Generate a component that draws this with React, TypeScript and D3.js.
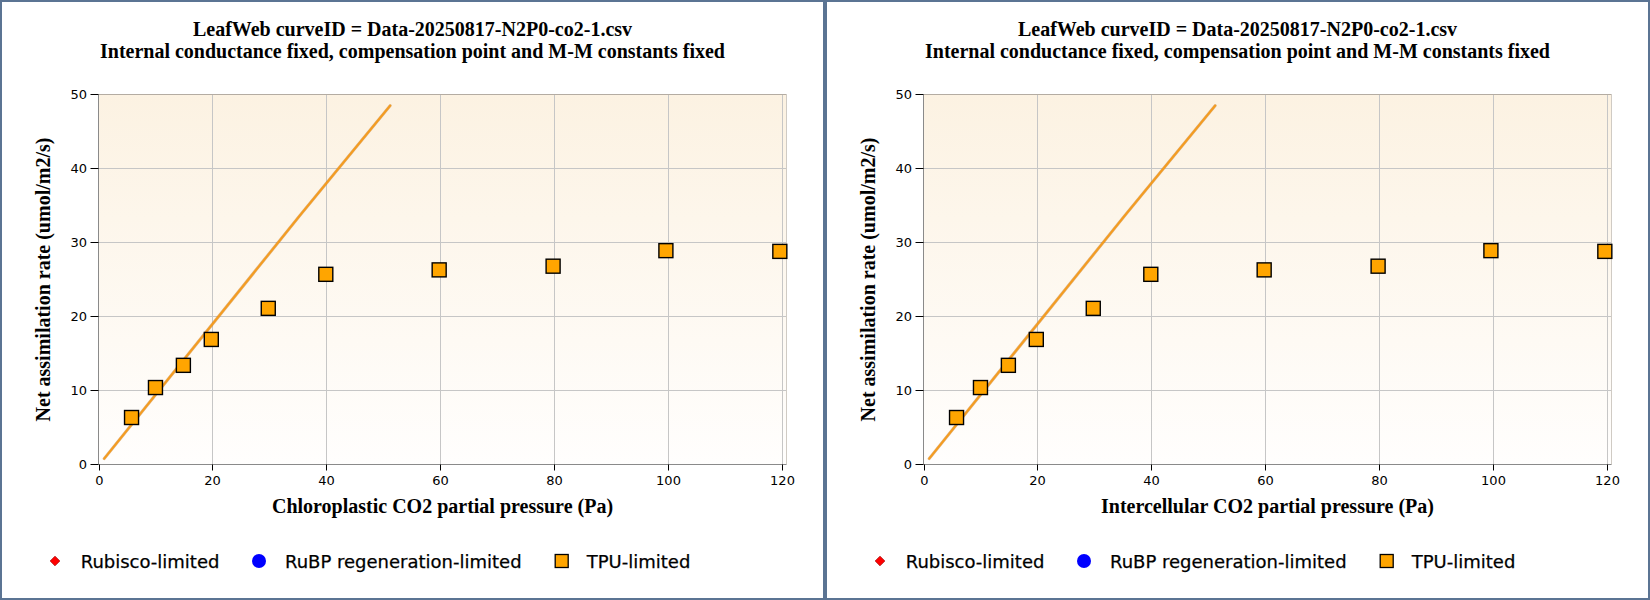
import React, { useEffect, useRef } from 'react';
import * as d3 from 'd3';

// ---- data ----
const ccValues = [5.8, 10.0, 14.9, 19.8, 29.8, 39.9, 59.8, 79.8, 99.6, 119.6];
const anValues = [6.35, 10.4, 13.4, 16.9, 21.1, 25.7, 26.3, 26.8, 28.9, 28.8];
const fitX = [1.0, 35.4, 51.2];
const fitY = [0.8, 33.7, 48.5];
const xTicks = [0, 20, 40, 60, 80, 100, 120];
const yTicks = [0, 10, 20, 30, 40, 50];
const titleLine1 = 'LeafWeb curveID = Data-20250817-N2P0-co2-1.csv';
const titleLine2 = 'Internal conductance fixed, compensation point and M-M constants fixed';
const xTitles = ['Chloroplastic CO2 partial pressure (Pa)', 'Intercellular CO2 partial pressure (Pa)'];
const yTitle = 'Net assimilation rate (umol/m2/s)';
const legendLabels = ['Rubisco-limited', 'RuBP regeneration-limited', 'TPU-limited'];

const W = 1650;
const H = 600;
const PW = 825;
const SERIF = '"Liberation Serif", "Times New Roman", serif';
const SANS = '"DejaVu Sans", Tahoma, Verdana, sans-serif';
const BORDER = '#5b7493';

export default function App() {
  const ref = useRef<SVGSVGElement | null>(null);

  useEffect(() => {
    const svg = d3.select(ref.current);
    svg.selectAll('*').remove();

    const defs = svg.append('defs');
    const grad = defs.append('linearGradient').attr('id', 'bgGrad').attr('x1', 0).attr('y1', 0).attr('x2', 0).attr('y2', 1);
    grad.append('stop').attr('offset', '0%').attr('stop-color', '#fcf2e2');
    grad.append('stop').attr('offset', '100%').attr('stop-color', '#fffefd');

    const x = d3.scaleLinear().domain([0, 120.77]).range([98.5, 786.5]);
    const y = d3.scaleLinear().domain([0, 50]).range([464.5, 94.5]);

    [0, 1].forEach((pi) => {
      const g = svg.append('g').attr('transform', `translate(${pi * PW},0)`);

      g.append('rect').attr('x', 0).attr('y', 0).attr('width', PW).attr('height', H).attr('fill', '#fff');

      // titles
      g.append('text').attr('x', PW / 2).attr('y', 35.7).attr('text-anchor', 'middle')
        .attr('font-family', SERIF).attr('font-weight', 'bold').attr('font-size', 20).text(titleLine1);
      g.append('text').attr('x', PW / 2).attr('y', 58.3).attr('text-anchor', 'middle')
        .attr('font-family', SERIF).attr('font-weight', 'bold').attr('font-size', 20).text(titleLine2);

      const [x0, x1] = x.range();
      const [y0, y1] = y.range();

      // plot background
      g.append('rect').attr('x', x0).attr('y', y1).attr('width', x1 - x0).attr('height', y0 - y1).attr('fill', 'url(#bgGrad)');

      // grid
      g.selectAll('.vg').data(xTicks.filter((t) => t > 0)).enter().append('line')
        .attr('x1', (d) => Math.round(x(d)) + 0.5).attr('x2', (d) => Math.round(x(d)) + 0.5)
        .attr('y1', y1).attr('y2', y0).attr('stroke', '#c6c6c6').attr('stroke-width', 1);
      g.selectAll('.hg').data(yTicks.filter((t) => t > 0)).enter().append('line')
        .attr('x1', x0).attr('x2', x1)
        .attr('y1', (d) => y(d)).attr('y2', (d) => y(d)).attr('stroke', '#c6c6c6').attr('stroke-width', 1);

      // plot frame
      g.append('line').attr('x1', x0).attr('x2', x1).attr('y1', y1).attr('y2', y1).attr('stroke', '#b4aca2');
      g.append('line').attr('x1', x1).attr('x2', x1).attr('y1', y1).attr('y2', y0).attr('stroke', '#d0cbc4');
      g.append('line').attr('x1', x0).attr('x2', x0).attr('y1', y1).attr('y2', y0).attr('stroke', '#8a8a8a');
      g.append('line').attr('x1', x0).attr('x2', x1).attr('y1', y0).attr('y2', y0).attr('stroke', '#8a8a8a');

      // x ticks
      const xt = g.selectAll('.xt').data(xTicks).enter().append('g')
        .attr('transform', (d) => `translate(${Math.round(x(d)) + 0.5},${y0})`);
      xt.append('line').attr('y1', 0).attr('y2', 6).attr('stroke', '#000');
      xt.append('text').attr('y', 20.5).attr('text-anchor', 'middle').attr('font-family', SANS)
        .attr('font-size', 13).attr('fill', '#000').text((d) => String(d));

      // y ticks
      const yt = g.selectAll('.yt').data(yTicks).enter().append('g')
        .attr('transform', (d) => `translate(${x0},${y(d)})`);
      yt.append('line').attr('x1', -8).attr('x2', 0).attr('stroke', '#000');
      yt.append('text').attr('x', -11.5).attr('dy', '0.36em').attr('text-anchor', 'end').attr('font-family', SANS)
        .attr('font-size', 13).attr('fill', '#000').text((d) => String(d));

      // axis titles
      g.append('text').attr('x', (x0 + x1) / 2).attr('y', 513).attr('text-anchor', 'middle')
        .attr('font-family', SERIF).attr('font-weight', 'bold').attr('font-size', 20).text(xTitles[pi]);
      g.append('text').attr('transform', `translate(50,${(y0 + y1) / 2}) rotate(-90)`).attr('text-anchor', 'middle')
        .attr('font-family', SERIF).attr('font-weight', 'bold').attr('font-size', 20).text(yTitle);

      // fitted line
      const line = d3.line<number>().x((d, i) => x(fitX[i])).y((d, i) => y(fitY[i]));
      g.append('path').attr('d', line(fitY) as string).attr('fill', 'none')
        .attr('stroke', '#c87410').attr('stroke-width', 3).attr('stroke-linecap', 'round').attr('opacity', 0.55);
      g.append('path').attr('d', line(fitY) as string).attr('fill', 'none')
        .attr('stroke', '#f59c1f').attr('stroke-width', 1.8).attr('stroke-linecap', 'round');

      // points
      const s = 14;
      g.selectAll('.pt').data(ccValues).enter().append('rect')
        .attr('x', (d) => x(d) - s / 2).attr('y', (d, i) => y(anValues[i]) - s / 2)
        .attr('width', s).attr('height', s).attr('fill', '#ffa500').attr('stroke', '#000').attr('stroke-width', 1.4);

      // legend
      const ly = 561;
      g.append('path').attr('d', d3.symbol().type(d3.symbolDiamond2).size(60)() as string)
        .attr('transform', `translate(55,${ly})`).attr('fill', '#ff0000').attr('stroke', '#a00000').attr('stroke-width', 0.7);
      g.append('circle').attr('cx', 259).attr('cy', ly).attr('r', 7).attr('fill', '#0000ff');
      g.append('rect').attr('x', 561.7 - 6.5).attr('y', ly - 6.5).attr('width', 13).attr('height', 13)
        .attr('fill', '#ffa500').attr('stroke', '#000').attr('stroke-width', 1.3);
      const lx = [80.7, 285, 586.7];
      legendLabels.forEach((lab, i) => {
        g.append('text').attr('x', lx[i]).attr('y', 568.3).attr('font-family', SANS).attr('font-size', 18)
          .attr('fill', '#000').attr('stroke', '#000').attr('stroke-width', 0.25).text(lab);
      });

      // panel border
      g.append('rect').attr('x', 1).attr('y', 1).attr('width', PW - 2).attr('height', H - 2)
        .attr('fill', 'none').attr('stroke', BORDER).attr('stroke-width', 2);
    });
  }, []);

  return (
    <svg ref={ref} width={W} height={H} style={{ position: 'absolute', left: 0, top: 0, display: 'block' }} />
  );
}
